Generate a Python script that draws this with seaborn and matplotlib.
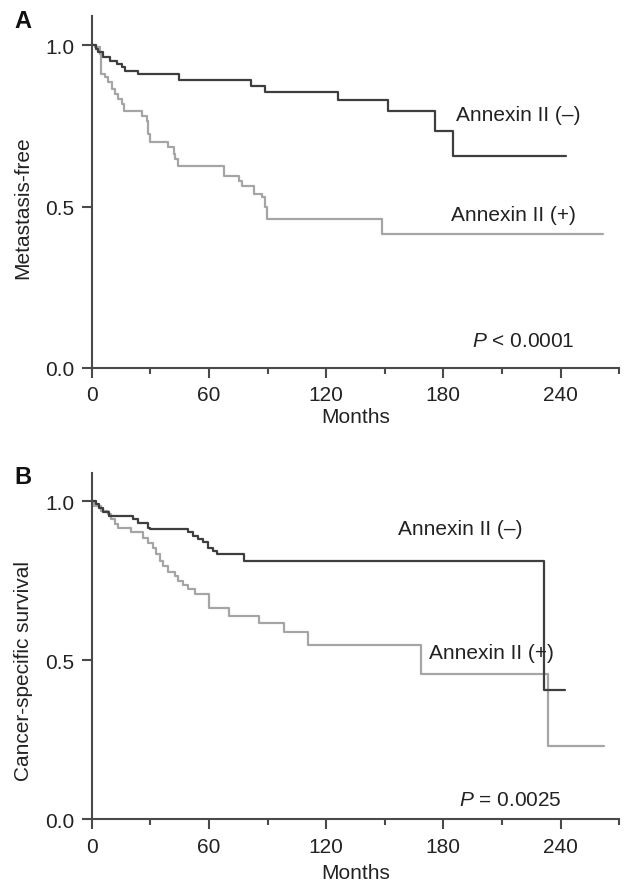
import pandas as pd
import matplotlib
matplotlib.use("Agg")
import matplotlib.pyplot as plt
import seaborn as sns

sns.set_style("ticks")
plt.rcParams['font.family'] = ['Liberation Sans', 'DejaVu Sans']
plt.rcParams['mathtext.fontset'] = 'custom'
plt.rcParams['mathtext.rm'] = 'Liberation Sans'
plt.rcParams['mathtext.it'] = 'Liberation Sans:italic'

# Panel A: metastasis-free (Kaplan-Meier steps)
a_neg_months = [0, 2.3, 3.4, 5.9, 9.4, 12.8, 15.4, 17.1, 23.9, 44.9, 81.7, 88.9,
                126, 151.8, 175.7, 184.9, 242.7]
a_neg_surv = [1.0, 0.989, 0.979, 0.963, 0.953, 0.942, 0.932, 0.921, 0.911, 0.893,
              0.875, 0.856, 0.832, 0.796, 0.736, 0.656, 0.656]
a_pos_months = [0, 1.7, 4.3, 4.8, 6.8, 8.5, 10.2, 11.9, 13.7, 15.4, 16.7, 25.6, 28.2,
                29.0, 29.9, 39.3, 41.9, 42.7, 44.1, 67.5, 75.2, 76.9, 82.9, 87.2,
                88.9, 89.7, 148.7, 261.5]
a_pos_surv = [1.0, 0.994, 0.973, 0.911, 0.901, 0.885, 0.865, 0.849, 0.834, 0.818,
              0.795, 0.782, 0.767, 0.725, 0.699, 0.684, 0.663, 0.648, 0.627, 0.596,
              0.580, 0.565, 0.539, 0.529, 0.498, 0.462, 0.415, 0.415]

# Panel B: cancer-specific survival
b_neg_months = [0, 2.2, 3.9, 5.7, 9.1, 21.0, 23.6, 28.8, 29.6, 49.3, 51.9, 54.5,
                57.1, 59.7, 62.2, 63.9, 77.8, 231.5, 242.3]
b_neg_surv = [1.0, 0.990, 0.980, 0.967, 0.954, 0.943, 0.933, 0.917, 0.912, 0.902,
              0.891, 0.881, 0.871, 0.854, 0.844, 0.834, 0.813, 0.408, 0.408]
b_pos_months = [0, 1.4, 4.8, 8.2, 10.0, 11.7, 13.4, 20.2, 26.2, 28.8, 31.4, 33.1,
                34.8, 36.5, 39.1, 42.5, 44.2, 46.8, 49.3, 52.8, 59.8, 70.4, 85.5,
                98.6, 110.6, 168.3, 233.8, 262.0]
b_pos_surv = [1.0, 0.985, 0.970, 0.960, 0.944, 0.928, 0.917, 0.905, 0.886, 0.870,
              0.854, 0.834, 0.813, 0.797, 0.779, 0.766, 0.750, 0.738, 0.724, 0.708,
              0.666, 0.640, 0.616, 0.588, 0.548, 0.457, 0.231, 0.231]

x_ticks = [0, 60, 120, 180, 240]
x_minor = [30, 90, 150, 210, 270]
y_ticks = [0.0, 0.5, 1.0]

dark = '#3e3e3e'
light = '#a5a5a5'
axis_col = '#4a4a4a'
text_col = '#222222'


def km_frame(months, surv, group):
    return pd.DataFrame({'Months': months, 'surv': surv, 'group': group})


fig = plt.figure(figsize=(6.31, 8.87), dpi=100)
ax_a = fig.add_axes([0.1453, 0.584, 0.836, 0.3965])
ax_b = fig.add_axes([0.1453, 0.075, 0.836, 0.391])

panels = [
    (ax_a, a_neg_months, a_neg_surv, a_pos_months, a_pos_surv, 'Metastasis-free', 0.458),
    (ax_b, b_neg_months, b_neg_surv, b_pos_months, b_pos_surv, 'Cancer-specific survival', 0.43),
]

for ax, nm, ns, pm, ps, ylab, ly in panels:
    df = pd.concat([km_frame(pm, ps, 'pos'), km_frame(nm, ns, 'neg')])
    sns.lineplot(data=df, x='Months', y='surv', hue='group', estimator=None,
                 palette={'neg': dark, 'pos': light}, drawstyle='steps-post',
                 linewidth=1.6, legend=False, ax=ax)
    ax.set_xlim(0, 270)
    ax.set_ylim(0, 1.09)
    ax.set_xticks(x_ticks)
    ax.set_xticks(x_minor, minor=True)
    ax.set_yticks(y_ticks)
    ax.set_yticklabels(['0.0', '0.5', '1.0'])
    sns.despine(ax=ax)
    for s in ['left', 'bottom']:
        ax.spines[s].set_color(axis_col)
        ax.spines[s].set_linewidth(1.5)
    ax.tick_params(axis='both', which='major', direction='out', length=7.5, width=1.5,
                   color=axis_col, labelsize=15, labelcolor=text_col, pad=5)
    ax.tick_params(axis='x', which='minor', direction='out', length=4.3, width=1.5,
                   color=axis_col)
    ax.set_xlabel('Months', fontsize=15, color=text_col)
    ax.set_ylabel(ylab, fontsize=15, color=text_col)
    ax.yaxis.set_label_coords(-0.112, ly)

ax_a.xaxis.set_label_coords(0.5, -0.11)
ax_b.xaxis.set_label_coords(0.5, -0.125)

ax_a.text(186.3, 0.787, 'Annexin II (–)', fontsize=15, color=text_col, va='center')
ax_a.text(183.7, 0.477, 'Annexin II (+)', fontsize=15, color=text_col, va='center')
ax_a.text(194.5, 0.084, r'$P$ < 0.0001', fontsize=15, color=text_col, va='center')

ax_b.text(156.7, 0.914, 'Annexin II (–)', fontsize=15, color=text_col, va='center')
ax_b.text(172.8, 0.526, 'Annexin II (+)', fontsize=15, color=text_col, va='center')
ax_b.text(188.2, 0.064, r'$P$ = 0.0025', fontsize=15, color=text_col, va='center')

fig.text(14 / 631, 1 - 21 / 887, 'A', fontsize=17, fontweight='bold', color='#111111',
         va='center')
fig.text(14 / 631, 1 - 478 / 887, 'B', fontsize=17, fontweight='bold', color='#111111',
         va='center')

fig.savefig('out.png', dpi=100)
